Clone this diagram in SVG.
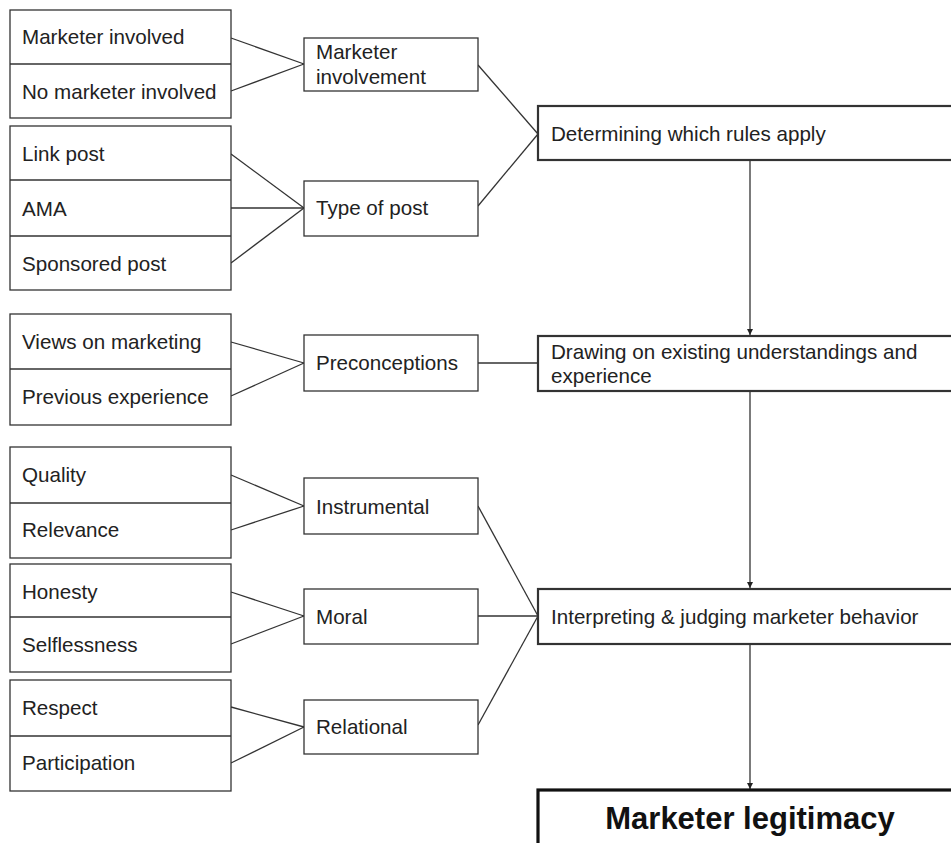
<svg xmlns="http://www.w3.org/2000/svg" width="951" height="843" viewBox="0 0 951 843">
<style>
  text { font-family: "Liberation Sans", Arial, sans-serif; font-size: 20.6px; fill: #222; }
  .thin { fill: #fff; stroke: #333; stroke-width: 1.3; }
  .mid { fill: #fff; stroke: #333; stroke-width: 2.2; }
  .thick { fill: #fff; stroke: #111; stroke-width: 3.2; }
  .div { stroke: #333; stroke-width: 1.3; fill: none; }
  .con { stroke: #333; stroke-width: 1.3; fill: none; }
  .arr { stroke: #333; stroke-width: 1.3; fill: none; marker-end: url(#ah); }
  .big { font-size: 31px; font-weight: bold; fill: #111; }
</style>
<defs>
  <marker id="ah" viewBox="0 0 10 10" refX="10" refY="5" markerWidth="6" markerHeight="6" orient="auto" markerUnits="userSpaceOnUse">
    <path d="M0,0 L10,5 L0,10 Z" fill="#222"/>
  </marker>
</defs>
<rect width="951" height="843" fill="#fff"/>

<g id="connectors">
  <line class="con" x1="231" y1="38" x2="304" y2="64"/>
  <line class="con" x1="231" y1="91" x2="304" y2="64"/>
  <line class="con" x1="231" y1="154" x2="304" y2="208"/>
  <line class="con" x1="231" y1="208" x2="304" y2="208"/>
  <line class="con" x1="231" y1="263" x2="304" y2="208"/>
  <line class="con" x1="478" y1="65" x2="538" y2="134"/>
  <line class="con" x1="478" y1="206" x2="538" y2="134"/>
  <line class="con" x1="231" y1="342" x2="304" y2="363"/>
  <line class="con" x1="231" y1="396" x2="304" y2="363"/>
  <line class="con" x1="478" y1="363" x2="538" y2="363"/>
  <line class="con" x1="231" y1="475" x2="304" y2="506"/>
  <line class="con" x1="231" y1="530" x2="304" y2="506"/>
  <line class="con" x1="231" y1="592" x2="304" y2="616"/>
  <line class="con" x1="231" y1="644" x2="304" y2="616"/>
  <line class="con" x1="231" y1="707" x2="304" y2="727"/>
  <line class="con" x1="231" y1="763" x2="304" y2="727"/>
  <line class="con" x1="478" y1="506" x2="538" y2="616"/>
  <line class="con" x1="478" y1="616" x2="538" y2="616"/>
  <line class="con" x1="478" y1="725" x2="538" y2="616"/>
  <line class="arr" x1="750" y1="161" x2="750" y2="335"/>
  <line class="arr" x1="750" y1="392" x2="750" y2="588"/>
  <line class="arr" x1="750" y1="645" x2="750" y2="789"/>
</g>

<g id="group-involvement">
  <rect class="thin" x="10" y="10" width="221" height="108"/>
  <line class="div" x1="10" y1="64" x2="231" y2="64"/>
  <text x="22" y="44">Marketer involved</text>
  <text x="22" y="99">No marketer involved</text>
</g>
<g id="group-posttype">
  <rect class="thin" x="10" y="126" width="221" height="164"/>
  <line class="div" x1="10" y1="180" x2="231" y2="180"/>
  <line class="div" x1="10" y1="236" x2="231" y2="236"/>
  <text x="22" y="161">Link post</text>
  <text x="22" y="216">AMA</text>
  <text x="22" y="271">Sponsored post</text>
</g>
<g id="group-preconceptions">
  <rect class="thin" x="10" y="314" width="221" height="111"/>
  <line class="div" x1="10" y1="369" x2="231" y2="369"/>
  <text x="22" y="349">Views on marketing</text>
  <text x="22" y="404">Previous experience</text>
</g>
<g id="group-instrumental">
  <rect class="thin" x="10" y="447" width="221" height="111"/>
  <line class="div" x1="10" y1="503" x2="231" y2="503"/>
  <text x="22" y="482">Quality</text>
  <text x="22" y="537">Relevance</text>
</g>
<g id="group-moral">
  <rect class="thin" x="10" y="564" width="221" height="108"/>
  <line class="div" x1="10" y1="617" x2="231" y2="617"/>
  <text x="22" y="599">Honesty</text>
  <text x="22" y="652">Selflessness</text>
</g>
<g id="group-relational">
  <rect class="thin" x="10" y="680" width="221" height="111"/>
  <line class="div" x1="10" y1="736" x2="231" y2="736"/>
  <text x="22" y="715">Respect</text>
  <text x="22" y="770">Participation</text>
</g>

<g id="node-marketer-involvement">
  <rect class="thin" x="304" y="38" width="174" height="53"/>
  <text x="316" y="59">Marketer</text>
  <text x="316" y="84">involvement</text>
</g>
<g id="node-type-of-post">
  <rect class="thin" x="304" y="181" width="174" height="55"/>
  <text x="316" y="215">Type of post</text>
</g>
<g id="node-preconceptions">
  <rect class="thin" x="304" y="335" width="174" height="56"/>
  <text x="316" y="370">Preconceptions</text>
</g>
<g id="node-instrumental">
  <rect class="thin" x="304" y="478" width="174" height="56"/>
  <text x="316" y="514">Instrumental</text>
</g>
<g id="node-moral">
  <rect class="thin" x="304" y="589" width="174" height="55"/>
  <text x="316" y="624">Moral</text>
</g>
<g id="node-relational">
  <rect class="thin" x="304" y="700" width="174" height="54"/>
  <text x="316" y="734">Relational</text>
</g>

<g id="node-determining">
  <rect class="mid" x="538" y="106" width="430" height="54"/>
  <text x="551" y="141">Determining which rules apply</text>
</g>
<g id="node-drawing">
  <rect class="mid" x="538" y="336" width="430" height="55"/>
  <text x="551" y="359">Drawing on existing understandings and</text>
  <text x="551" y="383">experience</text>
</g>
<g id="node-interpreting">
  <rect class="mid" x="538" y="589" width="430" height="55"/>
  <text x="551" y="624">Interpreting &amp; judging marketer behavior</text>
</g>
<g id="node-legitimacy">
  <rect class="thick" x="538" y="790" width="430" height="80"/>
  <text class="big" x="750" y="829" text-anchor="middle">Marketer legitimacy</text>
</g>
</svg>
